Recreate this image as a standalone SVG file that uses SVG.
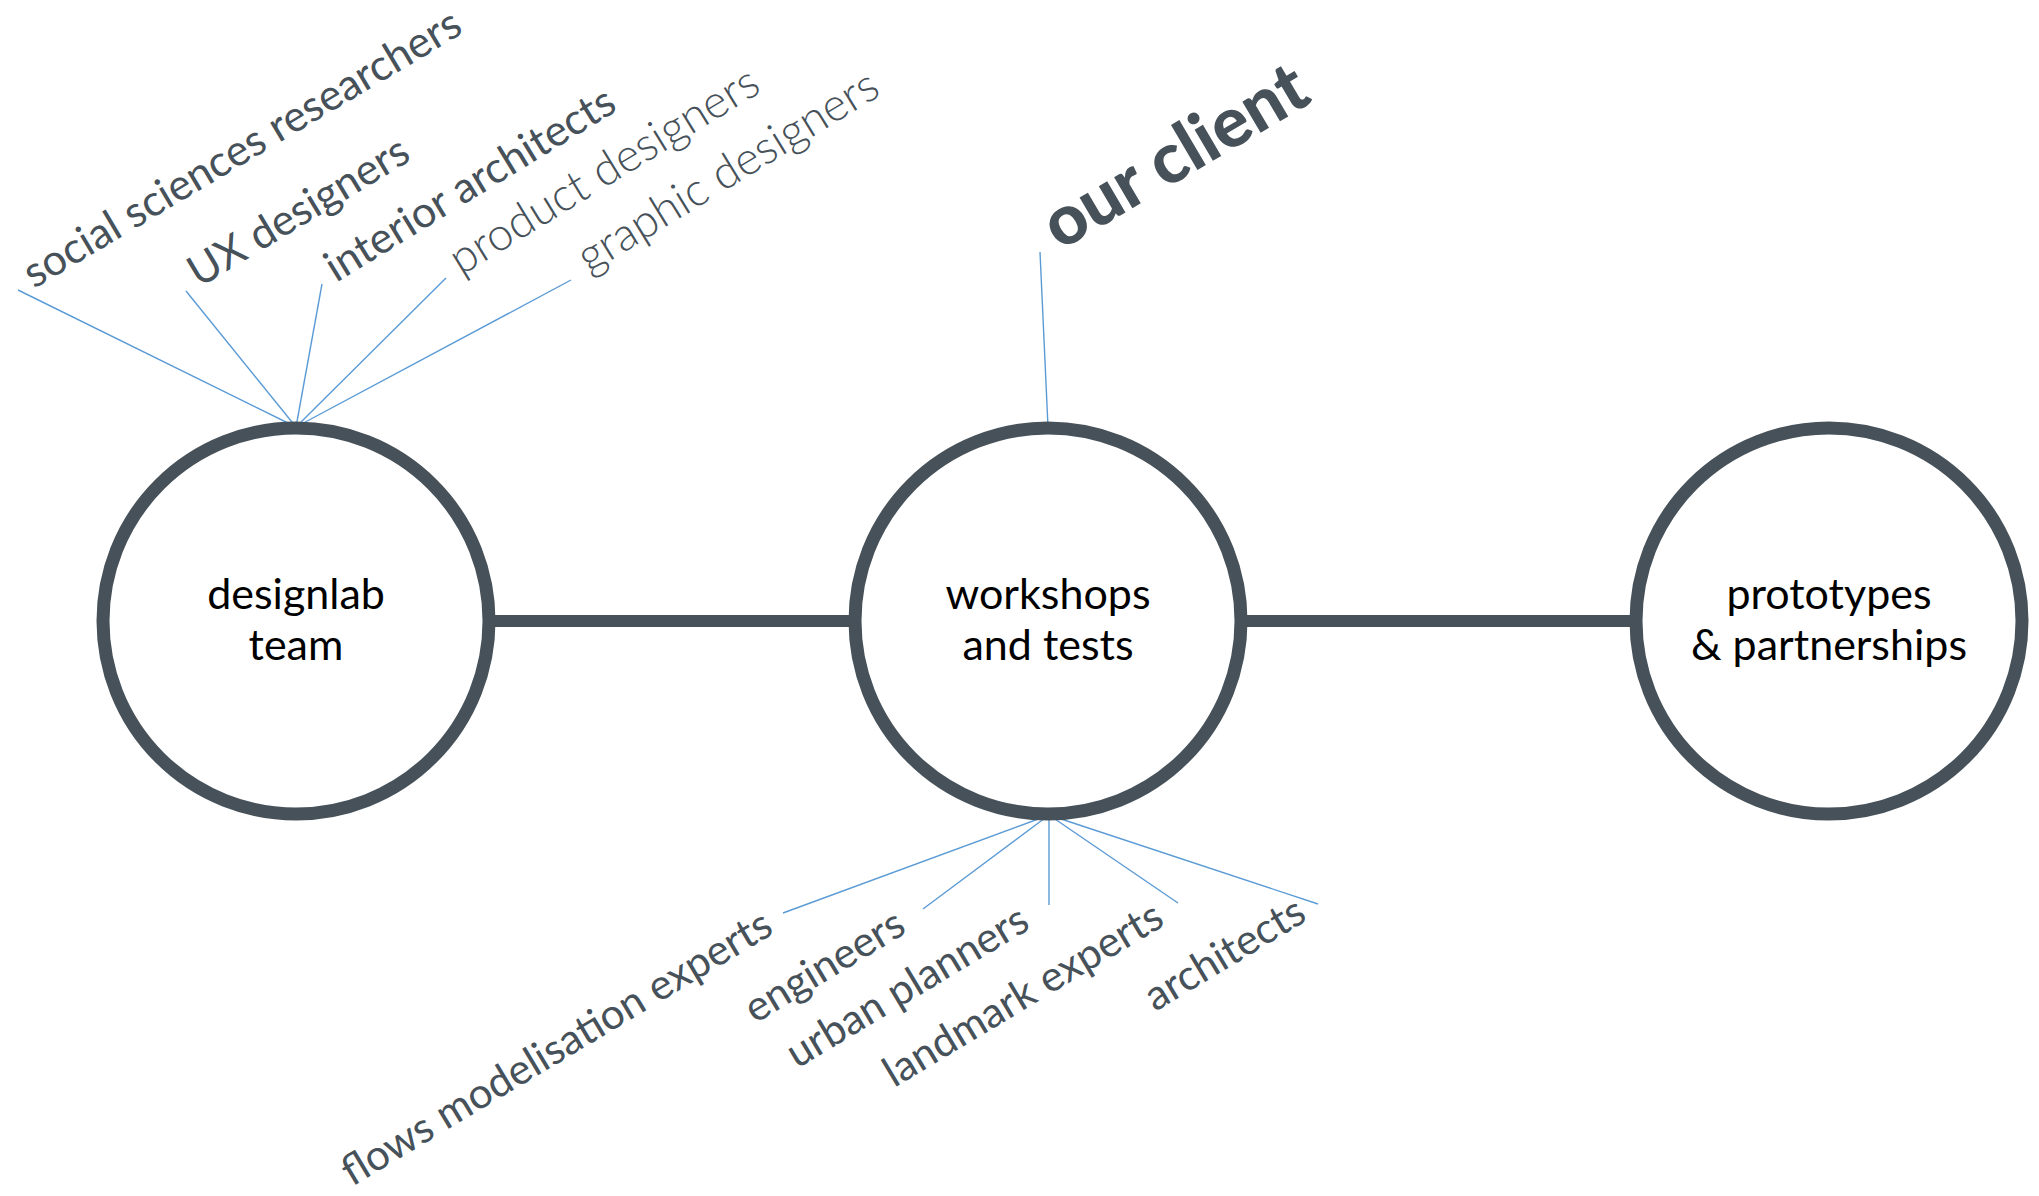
<svg xmlns="http://www.w3.org/2000/svg" width="2039" height="1196" viewBox="0 0 2039 1196">
<style>
.bg{fill:#ffffff}
.node circle{fill:#ffffff;stroke:#465159;stroke-width:13}
.node text{font-family:Lato,"Noto Sans",sans-serif;font-size:43px;fill:#000000;text-anchor:middle}
.conn line.main{stroke:#465159;stroke-width:12}
.conn line.fan{stroke:#5b9bd5;stroke-width:1.4}
.lbl{font-family:Lato,"Noto Sans",sans-serif;font-size:43px;fill:#465159}
.bot{font-size:42px}
.light{font-weight:300;font-size:46px}
.client{font-family:Lato,"Noto Sans",sans-serif;font-size:70px;font-weight:900;fill:#465159}
</style>
<rect class="bg" x="0" y="0" width="2039" height="1196"/>
<g id="connectors" class="conn">
  <line class="main" x1="489" y1="621" x2="856" y2="621"/>
  <line class="main" x1="1241" y1="621" x2="1636" y2="621"/>
  <line class="fan" x1="18" y1="290" x2="296" y2="427"/>
  <line class="fan" x1="186" y1="291" x2="296" y2="427"/>
  <line class="fan" x1="322" y1="284" x2="296" y2="427"/>
  <line class="fan" x1="446" y1="278" x2="296" y2="427"/>
  <line class="fan" x1="571" y1="280" x2="296" y2="427"/>
  <line class="fan" x1="1040" y1="252" x2="1048" y2="427"/>
  <line class="fan" x1="783" y1="913" x2="1049" y2="815"/>
  <line class="fan" x1="923" y1="909" x2="1049" y2="815"/>
  <line class="fan" x1="1049" y1="905" x2="1049" y2="815"/>
  <line class="fan" x1="1178" y1="903" x2="1049" y2="815"/>
  <line class="fan" x1="1318" y1="904" x2="1049" y2="815"/>
</g>
<g id="node-designlab" class="node">
  <circle cx="296" cy="621" r="193"/>
  <text x="296" y="609">designlab</text>
  <text x="296" y="660">team</text>
</g>
<g id="node-workshops" class="node">
  <circle cx="1048" cy="621" r="193"/>
  <text x="1048" y="609">workshops</text>
  <text x="1048" y="660">and tests</text>
</g>
<g id="node-prototypes" class="node">
  <circle cx="1829" cy="621" r="193"/>
  <text x="1829" y="609">prototypes</text>
  <text x="1829" y="660">&amp; partnerships</text>
</g>
<g id="labels-top">
  <text class="lbl" transform="translate(34,289) rotate(-30.8)">social sciences researchers</text>
  <text class="lbl" transform="translate(199,288) rotate(-31)">UX designers</text>
  <text class="lbl" transform="translate(336,283) rotate(-31.5)">interior architects</text>
  <text class="lbl light" transform="translate(461,276) rotate(-31.5)">product designers</text>
  <text class="lbl light" transform="translate(589,274) rotate(-31.5)">graphic designers</text>
</g>
<g id="label-client">
  <text class="client" transform="translate(1060,251) rotate(-30.5)">our client</text>
</g>
<g id="labels-bottom">
  <text class="lbl bot" transform="translate(352,1187) rotate(-31)">flows modelisation experts</text>
  <text class="lbl bot" transform="translate(755,1024) rotate(-31)">engineers</text>
  <text class="lbl bot" transform="translate(797,1069) rotate(-31)">urban planners</text>
  <text class="lbl bot" transform="translate(894,1088) rotate(-31)">landmark experts</text>
  <text class="lbl bot" transform="translate(1155,1012) rotate(-31)">architects</text>
</g>
</svg>
